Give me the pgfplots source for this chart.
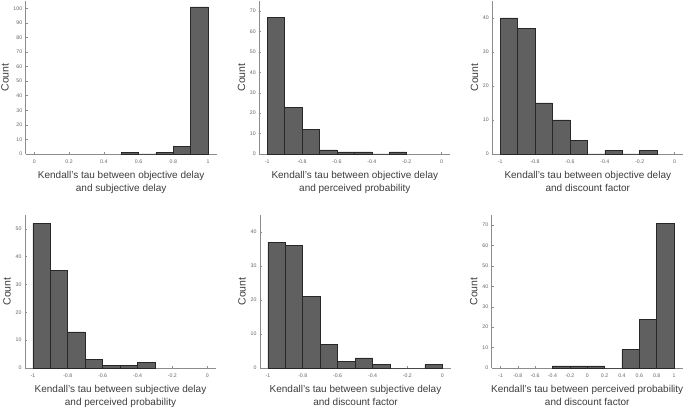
\documentclass[border=0pt]{standalone}
\usepackage{pgfplots}
\pgfplotsset{compat=1.18}
\usepackage{fontspec}
\setmainfont{Liberation Sans}
\definecolor{barfill}{RGB}{96,96,96}
\definecolor{baredge}{RGB}{40,40,40}
\definecolor{axgray}{RGB}{140,140,140}
\definecolor{lblgray}{RGB}{100,100,100}
\definecolor{txtgray}{RGB}{60,60,60}
\pgfplotsset{
  hist/.style={
    scale only axis, width=191pt, height=153pt,
    anchor=south west,
    axis x line=bottom, axis y line=left,
    axis line style={-, draw=axgray, line width=0.6pt},
    tick style={draw=axgray, line width=0.5pt},
    tick align=inside, major tick length=1.8pt,
    ymin=0,
    ticklabel style={font=\fontsize{5.2}{6}\selectfont, text=lblgray},
    xticklabel style={yshift=-2pt},
    /pgf/number format/assume math mode=true,
    xtick pos=bottom, ytick pos=left,
    xlabel style={font=\fontsize{10}{13.5}\selectfont, text=txtgray, align=center, yshift=-1pt},
    ylabel style={font=\fontsize{10.5}{12}\selectfont, text=txtgray, yshift=-2pt},
    ylabel={Count},
    clip=false,
  },
  barst/.style={ybar interval, fill=barfill, draw=baredge, line width=0.6pt},
}
\begin{document}
\begin{tikzpicture}
\useasboundingbox (0,0) rectangle (685pt,407pt);
% Panel 1
\begin{axis}[hist, at={(25.7pt,253pt)},
  xmin=-0.05, xmax=1.05, ymax=105,
  xtick={0,0.2,0.4,0.6,0.8,1}, xticklabels={0,0.2,0.4,0.6,0.8,1},
  ytick={0,10,...,100},
  xlabel={Kendall's tau between objective delay\\and subjective delay}]
\addplot[barst] coordinates {(0.5,1) (0.6,0) (0.7,1) (0.8,5) (0.9,101) (1.0,101)};
\end{axis}
% Panel 2
\begin{axis}[hist, at={(259.3pt,253pt)},
  xmin=-1.045, xmax=0.05, ymax=75,
  xtick={-1,-0.8,-0.6,-0.4,-0.2,0}, xticklabels={-1,-0.8,-0.6,-0.4,-0.2,0},
  ytick={0,10,...,70},
  xlabel={Kendall's tau between objective delay\\and perceived probability}]
\addplot[barst] coordinates {(-1,67) (-0.9,23) (-0.8,12) (-0.7,2) (-0.6,1) (-0.5,1) (-0.4,0) (-0.3,1) (-0.2,1)};
\end{axis}
% Panel 3
\begin{axis}[hist, at={(492.3pt,253pt)},
  xmin=-1.045, xmax=0.05, ymax=45,
  xtick={-1,-0.8,-0.6,-0.4,-0.2,0}, xticklabels={-1,-0.8,-0.6,-0.4,-0.2,0},
  ytick={0,10,...,40},
  xlabel={Kendall's tau between objective delay\\and discount factor}]
\addplot[barst] coordinates {(-1,40) (-0.9,37) (-0.8,15) (-0.7,10) (-0.6,4) (-0.5,0) (-0.4,1) (-0.3,0) (-0.2,1) (-0.1,1)};
\end{axis}
% Panel 4
\begin{axis}[hist, at={(25pt,39pt)},
  xmin=-1.045, xmax=0.05, ymax=55,
  xtick={-1,-0.8,-0.6,-0.4,-0.2,0}, xticklabels={-1,-0.8,-0.6,-0.4,-0.2,0},
  ytick={0,10,...,50},
  xlabel={Kendall's tau between subjective delay\\and perceived probability}]
\addplot[barst] coordinates {(-1,52) (-0.9,35) (-0.8,13) (-0.7,3) (-0.6,1) (-0.5,1) (-0.4,2) (-0.3,2)};
\end{axis}
% Panel 5
\begin{axis}[hist, at={(260pt,39pt)},
  xmin=-1.045, xmax=0.05, ymax=45,
  xtick={-1,-0.8,-0.6,-0.4,-0.2,0}, xticklabels={-1,-0.8,-0.6,-0.4,-0.2,0},
  ytick={0,10,...,40},
  xlabel={Kendall's tau between subjective delay\\and discount factor}]
\addplot[barst] coordinates {(-1,37) (-0.9,36) (-0.8,21) (-0.7,7) (-0.6,2) (-0.5,3) (-0.4,1) (-0.3,0) (-0.2,0) (-0.1,1) (0,1)};
\end{axis}
% Panel 6
\begin{axis}[hist, at={(491.7pt,39pt)},
  xmin=-1.1, xmax=1.1, ymax=75,
  xtick={-1,-0.8,...,1}, xticklabels={-1,-0.8,-0.6,-0.4,-0.2,0,0.2,0.4,0.6,0.8,1},
  ytick={0,10,...,70},
  xlabel={Kendall's tau between perceived probability\\and discount factor}]
\addplot[barst] coordinates {(-0.4,1) (-0.2,1) (0,1) (0.2,0) (0.4,9) (0.6,24) (0.8,71) (1.0,71)};
\end{axis}
\end{tikzpicture}
\end{document}
